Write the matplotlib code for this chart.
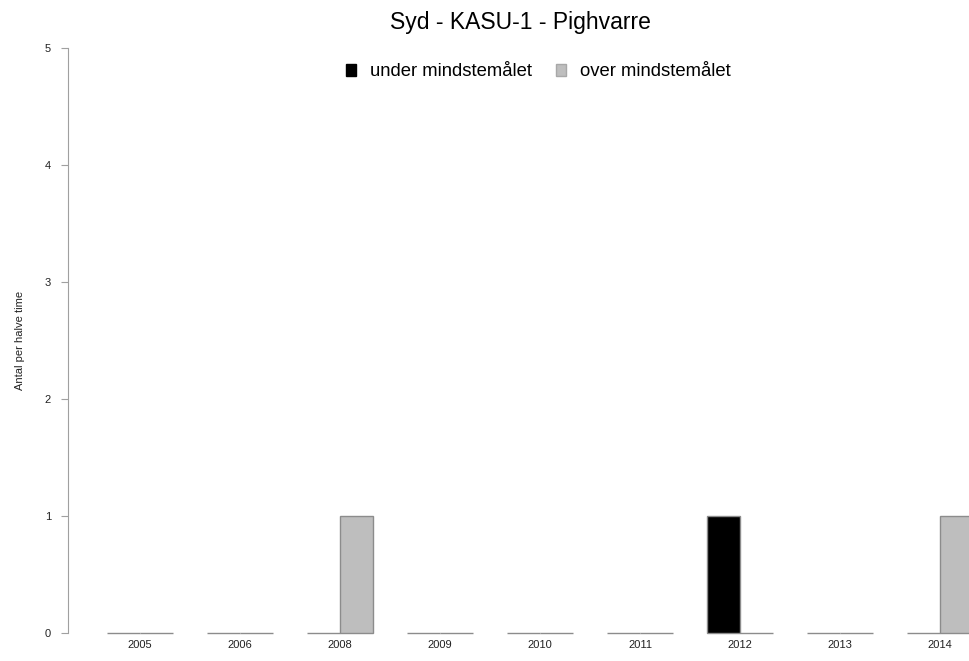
import numpy as np
import matplotlib
matplotlib.use("Agg")
import matplotlib.pyplot as plt
from matplotlib.patches import Patch

plt.rcParams["font.family"] = ["Liberation Sans", "DejaVu Sans"]

years = ["2005", "2006", "2008", "2009", "2010", "2011", "2012", "2013", "2014"]
under = [0, 0, 0, 0, 0, 0, 1, 0, 0]
over = [0, 0, 1, 0, 0, 0, 0, 0, 1]

under_col = "#000000"
over_col = "#BEBEBE"
edge_col = "#8C8C8C"

fig = plt.figure(figsize=(9.69, 6.61), dpi=100)
ax = fig.add_axes([72 / 969, 0.007, 1 - 72 / 969, 0.956])

x = 1 + 3 * np.arange(len(years))
ax.bar(x, under, width=1, align="edge", color=under_col, edgecolor=edge_col, linewidth=1)
ax.bar(x + 1, over, width=1, align="edge", color=over_col, edgecolor=edge_col, linewidth=1)

ax.set_xlim(-0.04, 26.87)
ax.set_ylim(-0.2, 5.2)

for s in ["top", "right", "bottom"]:
    ax.spines[s].set_visible(False)
ax.spines["left"].set_bounds(0, 5)
ax.spines["left"].set_color("#A0A0A0")
ax.spines["left"].set_position(("outward", 3))

ax.set_yticks(range(6))
ax.tick_params(axis="y", length=5, color="#A0A0A0", labelsize=8, pad=7, labelcolor="#222222")
ax.set_xticks([])
for xi, yr in zip(x + 1, years):
    ax.text(xi, -0.1, yr, ha="center", va="center", fontsize=8, color="#222222")

ax.set_ylabel("Antal per halve time", fontsize=8, color="#222222", va="center")
ax.yaxis.set_label_coords((20 - 72) / 897, 0.5)

fig.text(520 / 969, 1 - 22 / 661, "Syd - KASU-1 - Pighvarre", ha="center", va="center",
         fontsize=16.5)

handles = [
    Patch(facecolor=under_col, edgecolor=under_col, label="under mindstemålet"),
    Patch(facecolor=over_col, edgecolor="#A8A8A8", label="over mindstemålet"),
]
fig.legend(handles=handles, loc="center", bbox_to_anchor=(538 / 969, 1 - 72 / 661),
           ncol=2, frameon=False, fontsize=13.3, handlelength=0.55, handleheight=0.55,
           handletextpad=0.75, columnspacing=1.3, borderpad=0, borderaxespad=0)

fig.savefig("out.png", dpi=100)
